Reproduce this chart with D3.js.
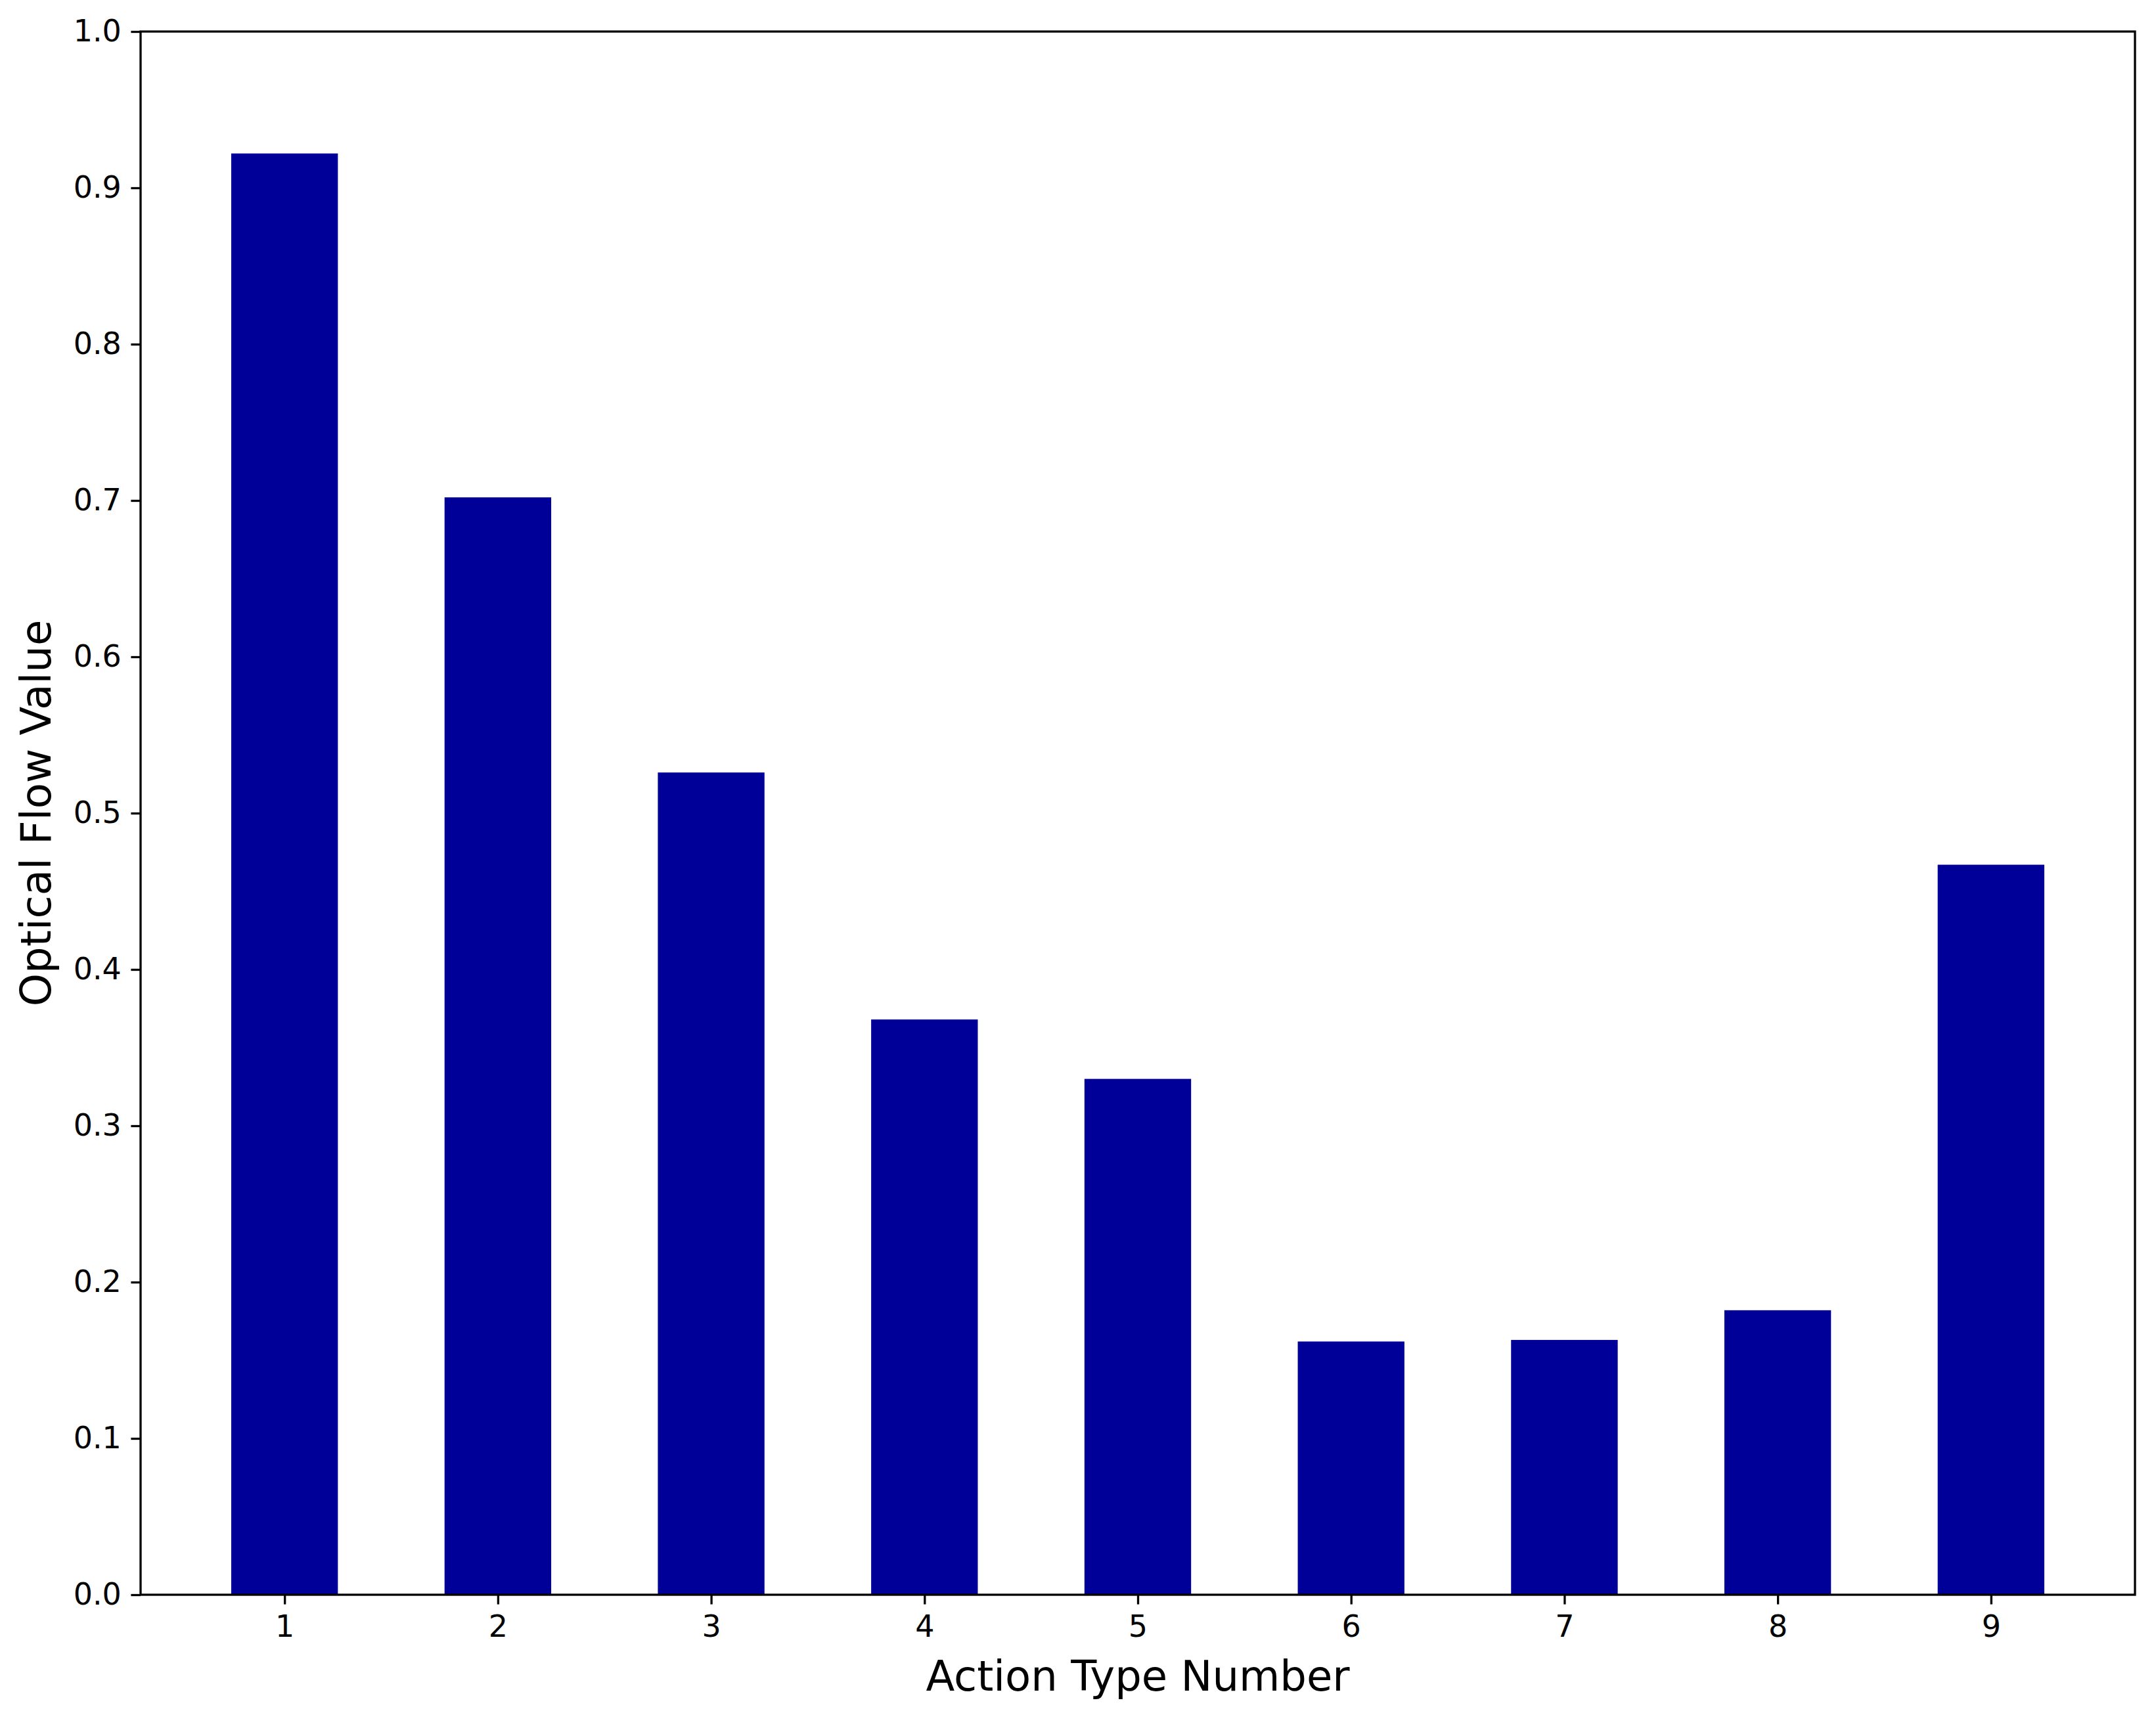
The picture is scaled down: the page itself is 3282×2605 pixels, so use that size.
<!DOCTYPE html>
<html>
<head>
<meta charset="utf-8">
<script src="https://cdn.jsdelivr.net/npm/d3@7"></script>
<style>
    html, body { margin: 0; padding: 0; background: #ffffff; }
    svg { display: block; }
    text { font-family: "DejaVu Sans", sans-serif; fill: #000; }
</style>
</head>
<body>
<svg id="chart" width="3282" height="2605"></svg>
<script>
// values
const actionTypes = [1, 2, 3, 4, 5, 6, 7, 8, 9];
const flowValues = [0.922, 0.702, 0.526, 0.368, 0.330, 0.162, 0.163, 0.182, 0.467];
const yTicks = [0.0, 0.1, 0.2, 0.3, 0.4, 0.5, 0.6, 0.7, 0.8, 0.9, 1.0];
const xLabel = "Action Type Number";
const yLabel = "Optical Flow Value";

const W = 3282, H = 2605;
const margin = { top: 48, right: 32, bottom: 177, left: 214 };
const width = W - margin.left - margin.right;
const height = H - margin.top - margin.bottom;
const barWidth = 0.5;
const tickLen = 14.6;
const tickPad = 14.6;
const axisColor = "#000";

const svg = d3.select("#chart");
const g = svg.append("g").attr("transform", `translate(${margin.left},${margin.top})`);

// matplotlib-like x limits: bar extent plus 5% margin
const lo = d3.min(actionTypes) - barWidth / 2;
const hi = d3.max(actionTypes) + barWidth / 2;
const pad = (hi - lo) * 0.05;
const x = d3.scaleLinear().domain([lo - pad, hi + pad]).range([0, width]);
const y = d3.scaleLinear().domain([0, 1]).range([height, 0]);

g.selectAll(".bar")
    .data(actionTypes.map((t, i) => ({ t, v: flowValues[i] })))
    .join("rect")
    .attr("class", "bar")
    .attr("x", (d) => x(d.t - barWidth / 2))
    .attr("width", (d) => x(d.t + barWidth / 2) - x(d.t - barWidth / 2))
    .attr("y", (d) => y(d.v))
    .attr("height", (d) => y(0) - y(d.v))
    .attr("fill", "#000099");

const xAxis = g.append("g")
    .attr("transform", `translate(0,${height})`)
    .call(d3.axisBottom(x).tickValues(actionTypes).tickFormat(d3.format("d"))
        .tickSize(tickLen).tickPadding(tickPad));
const yAxis = g.append("g")
    .call(d3.axisLeft(y).tickValues(yTicks).tickFormat(d3.format(".1f"))
        .tickSize(tickLen).tickPadding(tickPad));

[xAxis, yAxis].forEach((ax) => {
    ax.select(".domain").remove();
    ax.selectAll(".tick line").attr("stroke", axisColor).attr("stroke-width", 3.3);
    ax.selectAll(".tick text").attr("font-size", "46px").attr("fill", "#000");
});
xAxis.selectAll(".tick text").attr("dy", "0.76em");

// frame
g.append("rect")
    .attr("x", 0).attr("y", 0)
    .attr("width", width).attr("height", height)
    .attr("fill", "none")
    .attr("stroke", axisColor)
    .attr("stroke-width", 3.3);

svg.append("text")
    .attr("x", margin.left + width / 2)
    .attr("y", 2574)
    .attr("text-anchor", "middle")
    .attr("font-size", "64px")
    .text(xLabel);

svg.append("text")
    .attr("transform", `translate(77,${margin.top + height / 2}) rotate(-90)`)
    .attr("text-anchor", "middle")
    .attr("font-size", "64px")
    .text(yLabel);
</script>
</body>
</html>
